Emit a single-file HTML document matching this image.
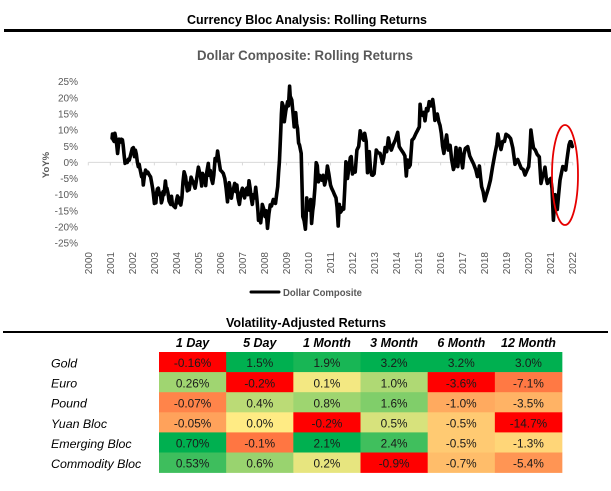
<!DOCTYPE html>
<html>
<head>
<meta charset="utf-8">
<title>Currency Bloc Analysis</title>
<style>
html,body{margin:0;padding:0;background:#fff;width:611px;height:491px;overflow:hidden}
svg{display:block}
text{font-family:"Liberation Sans",sans-serif}
</style>
</head>
<body>
<svg id="page" width="611" height="491" viewBox="0 0 611 491" xmlns="http://www.w3.org/2000/svg">
  <rect x="0" y="0" width="611" height="491" fill="#fff"/>
  <text x="307" y="24" text-anchor="middle" font-size="13" font-weight="bold" fill="#000" textLength="240" lengthAdjust="spacingAndGlyphs">Currency Bloc Analysis: Rolling Returns</text>
  <rect x="4" y="29" width="607" height="3" fill="#000"/>
  <text x="305" y="60" text-anchor="middle" font-size="13.5" font-weight="bold" fill="#595959" textLength="216" lengthAdjust="spacingAndGlyphs">Dollar Composite: Rolling Returns</text>
  <text transform="translate(49,165) rotate(-90)" text-anchor="middle" font-size="9.5" font-weight="bold" fill="#595959">YoY%</text>
  <g id="chart"></g>
  <ellipse cx="565" cy="175" rx="13" ry="50" fill="none" stroke="#e60000" stroke-width="1.8"/>
  <line x1="251" y1="292" x2="279" y2="292" stroke="#000" stroke-width="3" stroke-linecap="round"/>
  <text x="283" y="296" font-size="10" font-weight="bold" fill="#595959" textLength="79" lengthAdjust="spacingAndGlyphs">Dollar Composite</text>
  <text x="306" y="327" text-anchor="middle" font-size="13" font-weight="bold" fill="#000" textLength="160" lengthAdjust="spacingAndGlyphs">Volatility-Adjusted Returns</text>
  <rect x="3" y="331" width="605" height="2" fill="#000"/>
  <g id="table"></g>
</svg>
<script>
var yTicks = [25, 20, 15, 10, 5, 0, -5, -10, -15, -20, -25];
var xTicks = [2000, 2001, 2002, 2003, 2004, 2005, 2006, 2007, 2008, 2009, 2010, 2011, 2012, 2013, 2014, 2015, 2016, 2017, 2018, 2019, 2020, 2021, 2022];
var seriesDates = [
2001.08,2001.10,2001.13,2001.17,2001.21,2001.25,2001.29,2001.33,2001.37,2001.40,
2001.46,2001.50,2001.55,2001.58,2001.63,2001.67,2001.72,2001.77,2001.82,2001.86,
2001.93,2002.00,2002.05,2002.10,2002.14,2002.18,2002.23,2002.27,2002.31,2002.35,
2002.42,2002.46,2002.50,2002.55,2002.60,2002.65,2002.70,2002.78,2002.83,2002.87,
2002.92,2002.95,2003.00,2003.03,2003.07,2003.10,2003.14,2003.18,2003.23,2003.27,
2003.32,2003.36,2003.40,2003.44,2003.50,2003.54,2003.57,2003.62,2003.67,2003.74,
2003.78,2003.82,2003.88,2003.95,2004.00,2004.05,2004.09,2004.13,2004.20,2004.25,
2004.30,2004.35,2004.42,2004.46,2004.50,2004.54,2004.58,2004.67,2004.72,2004.76,
2004.85,2004.90,2005.00,2005.05,2005.10,2005.15,2005.19,2005.23,2005.28,2005.33,
2005.38,2005.45,2005.49,2005.54,2005.59,2005.65,2005.70,2005.76,2005.82,2005.87,
2005.92,2006.00,2006.06,2006.13,2006.20,2006.26,2006.32,2006.36,2006.40,2006.45,
2006.50,2006.55,2006.60,2006.65,2006.70,2006.75,2006.80,2006.86,2006.93,2007.00,
2007.05,2007.10,2007.15,2007.20,2007.25,2007.30,2007.35,2007.40,2007.45,2007.50,
2007.55,2007.60,2007.65,2007.70,2007.73,2007.78,2007.83,2007.87,2007.90,2007.97,
2008.03,2008.08,2008.14,2008.20,2008.26,2008.32,2008.40,2008.45,2008.50,2008.55,
2008.60,2008.64,2008.68,2008.71,2008.74,2008.77,2008.80,2008.85,2008.90,2008.97,
2009.05,2009.09,2009.12,2009.14,2009.17,2009.24,2009.30,2009.35,2009.38,2009.42,
2009.46,2009.50,2009.55,2009.59,2009.63,2009.67,2009.71,2009.74,2009.80,2009.86,
2009.89,2009.92,2009.97,2010.00,2010.05,2010.10,2010.14,2010.19,2010.23,2010.29,
2010.35,2010.40,2010.45,2010.50,2010.55,2010.60,2010.66,2010.73,2010.80,2010.86,
2010.92,2011.00,2011.05,2011.12,2011.18,2011.25,2011.30,2011.35,2011.40,2011.45,
2011.50,2011.55,2011.60,2011.65,2011.70,2011.74,2011.77,2011.83,2011.90,2011.94,
2012.00,2012.06,2012.12,2012.20,2012.28,2012.35,2012.42,2012.50,2012.55,2012.62,
2012.68,2012.76,2012.82,2012.87,2012.92,2012.98,2013.08,2013.15,2013.25,2013.32,
2013.36,2013.42,2013.48,2013.55,2013.63,2013.70,2013.76,2013.85,2013.95,2014.05,
2014.12,2014.20,2014.32,2014.38,2014.44,2014.50,2014.56,2014.62,2014.70,2014.78,
2014.88,2014.96,2015.03,2015.07,2015.12,2015.18,2015.24,2015.29,2015.36,2015.42,
2015.48,2015.56,2015.64,2015.69,2015.74,2015.80,2015.85,2015.92,2015.97,2016.03,
2016.09,2016.15,2016.21,2016.27,2016.35,2016.43,2016.50,2016.58,2016.64,2016.70,
2016.78,2016.83,2016.88,2016.94,2017.00,2017.06,2017.12,2017.23,2017.32,2017.41,
2017.50,2017.60,2017.67,2017.72,2017.76,2017.82,2017.86,2017.93,2018.00,2018.08,
2018.17,2018.26,2018.36,2018.47,2018.55,2018.60,2018.67,2018.74,2018.82,2018.90,
2018.97,2019.08,2019.18,2019.28,2019.38,2019.44,2019.50,2019.58,2019.66,2019.75,
2019.83,2019.92,2020.00,2020.05,2020.10,2020.16,2020.22,2020.30,2020.38,2020.48,
2020.56,2020.62,2020.68,2020.74,2020.80,2020.85,2020.92,2021.00,2021.06,2021.12,
2021.20,2021.25,2021.30,2021.36,2021.42,2021.48,2021.55,2021.63,2021.68,2021.73,
2021.78,2021.83,2021.88,2021.92,2021.98];
var seriesValues = [
7.5,8.8,7,6.5,9,7.5,5.5,2.8,5.5,7.2,
6.3,7.2,7,5.5,2,-0.3,0.6,0,1,0.7,
2.5,4.3,4.6,1.8,3.8,2.6,0,-1.3,-0.6,-2,
-4.4,-3.6,-7,-4,-2.4,-3.4,-3,-4,-4.5,-6,
-8,-9.6,-12.7,-10.5,-12.5,-9.5,-8.2,-8,-10,-9.5,
-12.5,-11.5,-9,-10,-5.8,-8.5,-8,-9.5,-12,-13,
-10.5,-13,-13.5,-14,-12,-10.4,-12.5,-11,-13.2,-11,
-6,-2.9,-4.5,-7,-8.8,-6.5,-8.5,-4.6,-5.5,-6,
-8,-6,-1.5,-3,-4.5,-7.3,-3.4,-6,-4,-7.2,
-3,-0.3,-4,-2.5,-5,-6.5,-4,1.2,0.5,3.5,
1,-2.4,-2.8,-3.4,-5,-8,-12.2,-9,-6.3,-8.5,
-11.1,-9,-8,-6.5,-9,-7,-11,-13,-9.5,-8,
-10,-11,-8.5,-8,-10,-5.7,-8,-11,-13,-10,
-11,-7.7,-11,-15,-17.9,-17.5,-18.7,-16,-13,-14.5,
-16.8,-15,-20.4,-16,-13.2,-13.5,-11.5,-12.5,-12.7,-10,
-7.5,-3,0.2,5,10,15,18.5,17.5,12.6,16,
18.8,17.5,21,23.6,20.5,19.3,15,11,13,15.4,
12,10.5,6,5.4,4,2.8,-8,-16.8,-18,-20.7,
-17,-11,-14,-12.5,-14.8,-11.5,-18.9,-15,-13,-8,
-0.1,-1,-6,-4,-4.5,-5.5,-4,-7,-5,-1.1,
-3.5,-7,-8,-9,-10,-11,-14,-19.7,-13,-15.5,
-15,-14,-14.5,-8,0.2,-0.5,-5,-2,1.5,1.8,
-3.6,-2,-3,3.8,5,9.8,8,6.9,9,6.5,
-3.2,3.3,-2.5,-3.9,-4,-3.5,3.8,3,2.8,1,
-0.3,1.5,4.6,3.3,7.6,5,3.8,5.5,7,9.3,
4.9,4,2.8,2,-4.2,0.7,-1.5,-0.8,6.9,7.5,
9,10,11,18,15,14.6,15.5,12.9,16.7,16,
18.8,17.5,19.5,17,13,14.5,15,12.5,11.5,9,
5,2.8,6,8.5,3.8,5.3,1,-2.2,-1,4.6,
-1.3,2,4.3,1,-1.7,2.5,4.3,4.9,2,0.7,
-0.5,-2.4,-4.4,-3,-1.1,-5,-7.5,-9,-11.9,-10,
-8,-5.5,-1.3,2.8,5.5,8.8,6,4,6.5,6.5,
8.7,8.2,7.4,4.5,-0.6,0.5,0.9,-0.5,-1.8,-2.2,
-3.9,-2.5,-1.3,3,10,7,4.5,3.8,2.5,1.7,
-6.5,-4.5,-3.5,-1.5,-5,-6.5,-5.5,-5,-8,-17.9,
-10,-12,-14.6,-10,-5.5,-3.5,-1.3,-1.5,-2.4,0.5,
3,5.4,6.4,6.4,4.9];
var tableColumns = ["1 Day", "5 Day", "1 Month", "3 Month", "6 Month", "12 Month"];
var tableRows = ["Gold", "Euro", "Pound", "Yuan Bloc", "Emerging Bloc", "Commodity Bloc"];
var valuesGold = [-0.16, 1.5, 1.9, 3.2, 3.2, 3.0];
var valuesEuro = [0.26, -0.2, 0.1, 1.0, -3.6, -7.1];
var valuesPound = [-0.07, 0.4, 0.8, 1.6, -1.0, -3.5];
var valuesYuan = [-0.05, 0.0, -0.2, 0.5, -0.5, -14.7];
var valuesEmerging = [0.70, -0.1, 2.1, 2.4, -0.5, -1.3];
var valuesCommodity = [0.53, 0.6, 0.2, -0.9, -0.7, -5.4];
var tableValues = [valuesGold, valuesEuro, valuesPound, valuesYuan, valuesEmerging, valuesCommodity];

var NS = "http://www.w3.org/2000/svg";
var chart = document.getElementById("chart");
var table = document.getElementById("table");
function xScale(year) { return 88.3 + (year - 2000) * 22.02; }
function yScale(v) { return 162.4 - v * 3.228; }
function make(tag, parent, attrs) {
  var el = document.createElementNS(NS, tag);
  for (var k in attrs) el.setAttribute(k, attrs[k]);
  parent.appendChild(el);
  return el;
}
yTicks.forEach(function (t) {
  var el = make("text", chart, {x: 78, y: yScale(t) + 3.5, "text-anchor": "end", "font-size": 10, fill: "#595959"});
  
  
  el.textContent = t + "%";
});
var axisLine = make("line", chart, {x1: xScale(xTicks[0]), x2: xScale(xTicks[xTicks.length - 1]), y1: yScale(0), y2: yScale(0), stroke: "#d9d9d9", "stroke-width": 1});


xTicks.forEach(function (t) {
  var mark = make("line", chart, {x1: xScale(t), x2: xScale(t), y1: yScale(0), y2: yScale(0) + 3, stroke: "#d9d9d9", "stroke-width": 1});
  
  
  var el = make("text", chart, {transform: "translate(" + (xScale(t) + 3.5) + ",252) rotate(-90)", "text-anchor": "end", "font-size": 10, fill: "#595959"});
  
  
  el.textContent = t;
});
var pts = seriesDates.map(function (d, i) { return xScale(d).toFixed(1) + "," + yScale(seriesValues[i]).toFixed(1); }).join(" ");
var line = make("polyline", chart, {points: pts, fill: "none", stroke: "#000", "stroke-width": 3.6, "stroke-linejoin": "round", "stroke-linecap": "round"});



function mix(a, b, t) {
  return "rgb(" + a.map(function (c, i) { return Math.round(c + (b[i] - c) * t); }).join(",") + ")";
}
function cellColor(v, col) {
  var vals = tableValues.map(function (r) { return r[col]; });
  var min = Math.min.apply(null, vals), max = Math.max.apply(null, vals);
  var mid = [255, 235, 132];
  if (v >= 0) return mix(mid, [0, 176, 80], max > 0 ? v / max : 0);
  return mix(mid, [255, 0, 0], min < 0 ? v / min : 0);
}
var colX = function (c) { return 159 + c * 67.17; };
var rowY = function (r) { return 352 + r * 20.1; };
tableColumns.forEach(function (name, c) {
  var el = make("text", table, {x: colX(c) + 33.6, y: 347, "text-anchor": "middle", "font-size": 12.5, "font-weight": "bold", "font-style": "italic", fill: "#000"});
  
  
  el.textContent = name;
});
tableRows.forEach(function (name, r) {
  var el = make("text", table, {x: 51, y: rowY(r) + 15.5, "font-size": 12.4, "font-style": "italic", fill: "#000"});
  
  
  el.textContent = name;
  tableValues[r].forEach(function (v, c) {
    var cell = make("rect", table, {x: colX(c), y: rowY(r), width: 67.5, height: 20.4, fill: cellColor(v, c)});
    
    
    var label = make("text", table, {x: colX(c) + 33.6, y: rowY(r) + 15.2, "text-anchor": "middle", "font-size": 11.8, fill: "#1a1a1a"});
    
    
    label.textContent = v.toFixed(c === 0 ? 2 : 1) + "%";
  });
});
</script>
</body>
</html>
